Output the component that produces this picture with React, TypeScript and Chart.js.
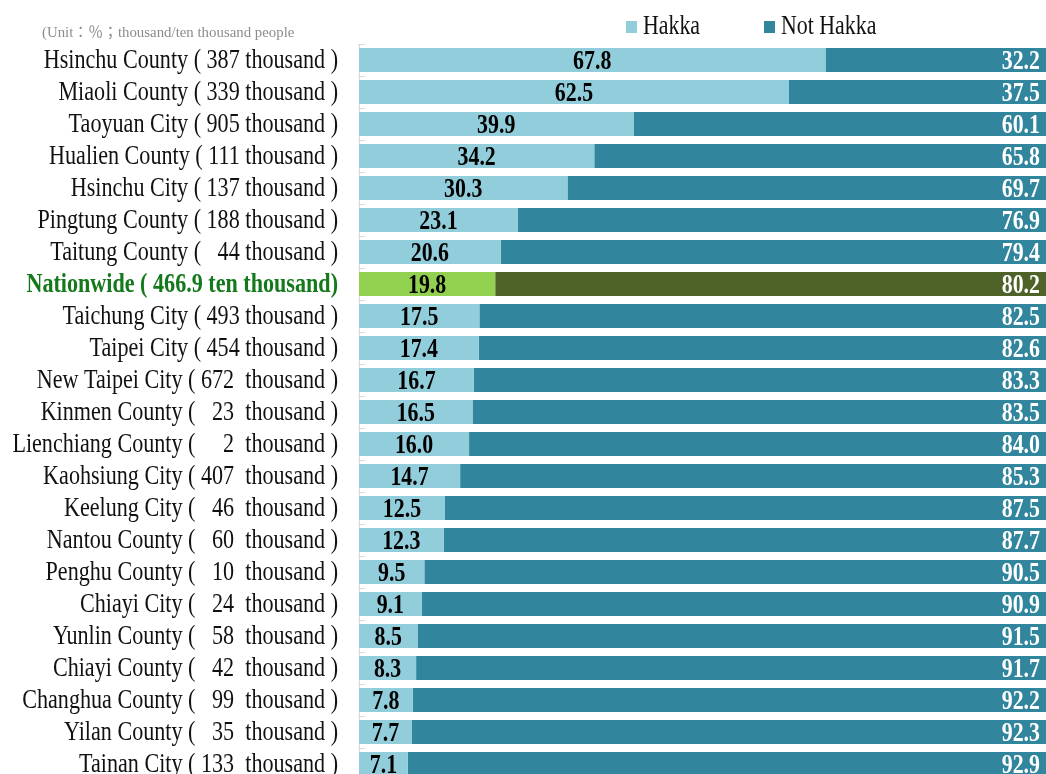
import React, { useEffect, useRef } from "react";
import { Chart, registerables } from "chart.js";

Chart.register(...registerables);

const regionLabels: string[] = [
  "Hsinchu County ( 387 thousand )",
  "Miaoli County ( 339 thousand )",
  "Taoyuan City ( 905 thousand )",
  "Hualien County ( 111 thousand )",
  "Hsinchu City ( 137 thousand )",
  "Pingtung County ( 188 thousand )",
  "Taitung County (   44 thousand )",
  "Nationwide ( 466.9 ten thousand)",
  "Taichung City ( 493 thousand )",
  "Taipei City ( 454 thousand )",
  "New Taipei City ( 672  thousand )",
  "Kinmen County (   23  thousand )",
  "Lienchiang County (     2  thousand )",
  "Kaohsiung City ( 407  thousand )",
  "Keelung City (   46  thousand )",
  "Nantou County (   60  thousand )",
  "Penghu County (   10  thousand )",
  "Chiayi City (   24  thousand )",
  "Yunlin County (   58  thousand )",
  "Chiayi County (   42  thousand )",
  "Changhua County (   99  thousand )",
  "Yilan County (   35  thousand )",
  "Tainan City ( 133  thousand )",
];

const hakkaShare: number[] = [
  67.8, 62.5, 39.9, 34.2, 30.3, 23.1, 20.6, 19.8, 17.5, 17.4, 16.7, 16.5, 16.0,
  14.7, 12.5, 12.3, 9.5, 9.1, 8.5, 8.3, 7.8, 7.7, 7.1,
];

const notHakkaShare: number[] = [
  32.2, 37.5, 60.1, 65.8, 69.7, 76.9, 79.4, 80.2, 82.5, 82.6, 83.3, 83.5, 84.0,
  85.3, 87.5, 87.7, 90.5, 90.9, 91.5, 91.7, 92.2, 92.3, 92.9,
];

const seriesNames: string[] = ["Hakka", "Not Hakka"];
const nationwideIndex = 7;
const unitNote = "(Unit：％；thousand/ten thousand people";

const COLORS = {
  hakka: "#92CDDC",
  notHakka: "#31859C",
  natHakka: "#92D050",
  natNotHakka: "#4F6228",
  natText: "#13791A",
  text: "#111111",
  note: "#8C8C8C",
  axis: "#D9D9D9",
};

const SERIF = '"Liberation Serif", "Times New Roman", serif';

const textPlugin = {
  id: "customText",
  beforeDatasetsDraw(chart: any) {
    const ctx = chart.ctx;
    const y = chart.scales.y;
    const n = regionLabels.length;
    const step = y.getPixelForValue(1) - y.getPixelForValue(0);
    ctx.save();
    ctx.strokeStyle = COLORS.axis;
    ctx.lineWidth = 1;
    for (let k = 0; k <= n; k++) {
      const py = Math.round(y.getPixelForValue(0) + (k - 0.5) * step) + 0.5;
      ctx.beginPath();
      ctx.moveTo(y.right - 1, py);
      ctx.lineTo(y.right + 6, py);
      ctx.stroke();
    }
    ctx.restore();
  },
  afterDraw(chart: any) {
    const ctx = chart.ctx;
    const yScale = chart.scales.y;
    const area = chart.chartArea;

    // Category labels (condensed serif)
    regionLabels.forEach((label, i) => {
      const py = yScale.getPixelForValue(i);
      const isNat = i === nationwideIndex;
      ctx.save();
      ctx.font = (isNat ? "bold " : "") + "28px " + SERIF;
      ctx.fillStyle = isNat ? COLORS.natText : COLORS.text;
      ctx.textAlign = "right";
      ctx.textBaseline = "alphabetic";
      ctx.translate(yScale.right - 21, py + 8);
      ctx.scale(isNat ? 0.79 : 0.79, 1);
      ctx.fillText(label, 0, 0);
      ctx.restore();
    });

    // Value labels
    chart.data.datasets.forEach((ds: any, di: number) => {
      const meta = chart.getDatasetMeta(di);
      meta.data.forEach((bar: any, i: number) => {
        const v = ds.data[i] as number;
        const txt = v.toFixed(1);
        ctx.save();
        ctx.font = "bold 27px " + SERIF;
        ctx.textBaseline = "alphabetic";
        if (di === 0) {
          ctx.fillStyle = "#000000";
          ctx.textAlign = "center";
          ctx.translate((bar.x + bar.base) / 2, bar.y + 9);
        } else {
          ctx.fillStyle = "#FFFFFF";
          ctx.textAlign = "right";
          ctx.translate(Math.min(bar.x, 1047) - 7, bar.y + 9);
        }
        ctx.scale(0.81, 1);
        ctx.fillText(txt, 0, 0);
        ctx.restore();
      });
    });

    // Legend
    const legendX = [area.left + 267, area.left + 405];
    const legendColors = [COLORS.hakka, COLORS.notHakka];
    seriesNames.forEach((name, i) => {
      ctx.save();
      ctx.fillStyle = legendColors[i];
      ctx.fillRect(legendX[i], 21, 11, 12);
      ctx.fillStyle = COLORS.text;
      ctx.font = "27px " + SERIF;
      ctx.textAlign = "left";
      ctx.textBaseline = "alphabetic";
      ctx.translate(legendX[i] + 17, 34);
      ctx.scale(0.81, 1);
      ctx.fillText(name, 0, 0);
      ctx.restore();
    });

    // Unit note
    ctx.save();
    ctx.fillStyle = COLORS.note;
    ctx.font = '15px "Liberation Serif", "Noto Sans CJK TC", serif';
    ctx.textAlign = "left";
    ctx.textBaseline = "alphabetic";
    ctx.translate(42, 37);
    ctx.scale(0.99, 1);
    ctx.fillText(unitNote, 0, 0);
    ctx.restore();
  },
};

export default function App() {
  const canvasRef = useRef<HTMLCanvasElement | null>(null);

  useEffect(() => {
    if (!canvasRef.current) return;
    const chart = new Chart(canvasRef.current, {
      type: "bar",
      data: {
        labels: regionLabels,
        datasets: [
          {
            label: seriesNames[0],
            data: hakkaShare,
            backgroundColor: (c: any) =>
              c.dataIndex === nationwideIndex ? COLORS.natHakka : COLORS.hakka,
            borderWidth: 0,
            barPercentage: 0.75,
            categoryPercentage: 1,
          },
          {
            label: seriesNames[1],
            data: notHakkaShare,
            backgroundColor: (c: any) =>
              c.dataIndex === nationwideIndex ? COLORS.natNotHakka : COLORS.notHakka,
            borderWidth: 0,
            barPercentage: 0.75,
            categoryPercentage: 1,
          },
        ],
      },
      options: {
        indexAxis: "y",
        responsive: false,
        animation: false,
        layout: { padding: { top: 44, bottom: 20, left: 0, right: 0 } },
        plugins: {
          legend: { display: false },
          tooltip: { enabled: false },
        },
        scales: {
          x: { stacked: true, min: 0, max: 100, display: false },
          y: {
            stacked: true,
            grid: { display: false },
            border: { display: true, color: COLORS.axis, width: 1 },
            ticks: { display: false },
            afterFit: (s: any) => {
              s.width = 359;
            },
          },
        },
      },
      plugins: [textPlugin],
    });
    return () => chart.destroy();
  }, []);

  return (
    <div
      style={{
        position: "fixed",
        left: 0,
        top: 0,
        width: 1046,
        height: 774,
        overflow: "hidden",
        background: "#ffffff",
      }}
    >
      <canvas
        ref={canvasRef}
        width={1047}
        height={800}
        style={{ position: "absolute", left: 0, top: 0, width: 1047, height: 800 }}
      />
    </div>
  );
}
